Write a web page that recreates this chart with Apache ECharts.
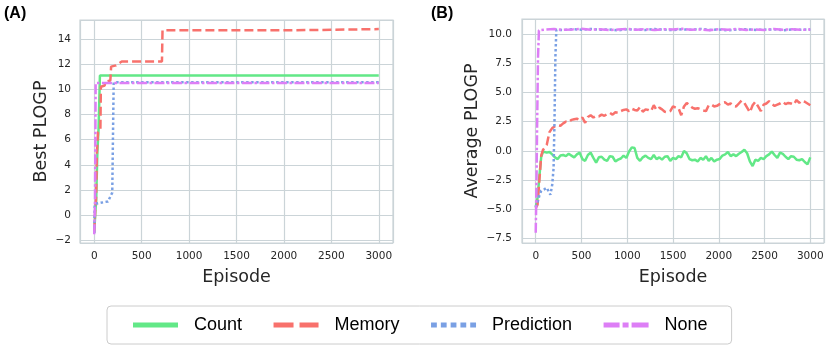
<!DOCTYPE html>
<html>
<head>
<meta charset="utf-8">
<script src="https://cdn.jsdelivr.net/npm/echarts@6/dist/echarts.min.js"></script>
<style>
  html, body { margin: 0; background: #fff; }
  #chart { width: 830px; height: 349px; }
</style>
</head>
<body>
<div id="chart"></div>
<script>
// Panel A: best PLOGP (step curves)
const aCountEp = [0, 12, 20, 33, 40, 46, 55, 60, 3000];
const aCount = [-1.4, 0.3, 1.0, 5.0, 5.1, 6.9, 7.0, 11.1, 11.1];
const aMemoryEp = [0, 10, 20, 28, 40, 65, 70, 110, 118, 170, 178, 230, 250, 290, 714, 720, 2070, 2080, 3000];
const aMemory = [-1.3, 0.3, 1.5, 5.0, 6.6, 6.8, 10.2, 10.3, 10.6, 10.7, 11.8, 11.9, 12.0, 12.2, 12.2, 14.68, 14.68, 14.78, 14.78];
const aPredEp = [0, 5, 15, 145, 190, 200, 205, 3000];
const aPred = [-1.4, 0.9, 1.0, 1.1, 1.8, 1.85, 10.55, 10.55];
const aNoneEp = [0, 8, 12, 15, 3000];
const aNone = [-1.5, 1.0, 6.0, 10.5, 10.5];

// Panel B: average PLOGP
const bEp = [0, 20, 40, 60, 80, 100, 120, 150, 180, 210, 240, 270,
  300, 330, 360, 390, 420, 450, 480, 510, 540, 570, 600, 630, 660, 690, 720, 750, 780, 810, 840, 870, 900, 930, 960, 990,
  1020, 1050, 1080, 1110, 1140, 1170, 1200, 1230, 1260, 1290, 1320, 1350, 1380, 1410, 1440, 1470, 1500, 1530, 1560, 1590,
  1620, 1650, 1680, 1710, 1740, 1770, 1800, 1830, 1860, 1890, 1920, 1950, 1980, 2010, 2040, 2070, 2100, 2130, 2160, 2190,
  2220, 2250, 2280, 2310, 2340, 2370, 2400, 2430, 2460, 2490, 2520, 2550, 2580, 2610, 2640, 2670, 2700, 2730, 2760, 2790,
  2820, 2850, 2880, 2910, 2940, 2970, 3000];
const bCount = [-4.8, -4.0, -2.2, -0.5, -0.05, -0.1, -0.15, -0.1, -0.3, -0.55, -0.7, -0.4,
  -0.35, -0.45, -0.25, -0.4, -0.55, -0.3, -0.15, -0.7, -0.85, -0.35, -0.15, -0.6, -1.0, -0.55, -0.5, -0.75, -0.85, -0.45, -0.5, -0.9, -0.75, -0.65, -0.4, -0.6,
  -0.05, 0.3, 0.25, -0.6, -0.85, -0.55, -0.4, -0.6, -0.7, -0.35, -0.7, -0.55, -0.75, -0.5, -0.45, -0.85, -0.6, -0.7, -0.45, -0.55,
  0.0, -0.2, -0.7, -0.8, -0.75, -0.9, -0.6, -0.75, -0.45, -0.85, -0.6, -0.9, -0.75, -0.7, -0.4, -0.3, -0.1, -0.45, -0.3, -0.45,
  -0.25, -0.1, 0.1, -0.2, -0.9, -1.3, -0.75, -0.85, -0.6, -0.7, -0.45, -0.3, -0.05, -0.35, -0.6, -0.15, -0.25, -0.5, -0.7, -0.45,
  -0.5, -0.75, -0.8, -0.7, -0.95, -1.15, -0.55];
const bMemory = [-4.9, -4.6, -2.5, -0.4, 0.1, 0.15, 0.5, 1.6, 1.95, 2.1, 2.2, 2.15,
  2.35, 2.5, 2.45, 2.65, 2.7, 2.75, 2.65, 2.85, 2.4, 2.9, 3.05, 2.85, 3.0, 2.95, 3.1, 3.0, 3.15, 3.25, 3.1, 3.3, 3.25, 3.4, 3.5, 3.55,
  3.4, 3.6, 3.5, 3.45, 3.75, 3.35, 3.55, 3.5, 3.4, 3.9, 3.5, 3.7, 3.55, 3.35, 3.3, 3.4, 3.8, 3.7, 3.65, 3.05,
  3.8, 4.1, 3.9, 3.7, 3.6, 3.65, 3.55, 3.45, 3.4, 3.9, 3.95, 3.8, 3.85, 4.0, 4.1, 4.15, 3.95, 4.05, 3.85, 3.8,
  4.05, 4.3, 4.1, 3.7, 3.3, 3.9, 4.2, 3.8, 3.4, 3.95, 4.05, 4.25, 4.0, 3.85, 3.95, 4.05, 4.2, 4.0, 4.1, 4.05,
  3.95, 4.35, 4.1, 4.3, 4.2, 4.05, 3.9];
const bPredEp = [0, 20, 40, 60, 90, 120, 140, 160, 180, 195, 205, 215, 225,
  300, 400, 500, 600, 700, 800, 900, 1000, 1100, 1200, 1300, 1400, 1500, 1600, 1700, 1800, 1900, 2000,
  2100, 2200, 2300, 2400, 2500, 2600, 2700, 2800, 2900, 3000];
const bPred = [-4.8, -4.4, -3.8, -3.4, -3.3, -3.15, -3.3, -3.75, -2.9, -1.5, 2.5, 8.0, 10.35,
  10.33, 10.4, 10.36, 10.42, 10.35, 10.38, 10.3, 10.4, 10.36, 10.33, 10.41, 10.37, 10.32, 10.39, 10.35, 10.42, 10.34, 10.38,
  10.3, 10.37, 10.4, 10.34, 10.36, 10.39, 10.31, 10.37, 10.35, 10.38];
const bNoneEp = [0, 8, 15, 25, 35, 100, 200, 300, 400, 500, 600, 700, 800, 900, 1000, 1100, 1200, 1300, 1400, 1500,
  1600, 1700, 1800, 1900, 2000, 2100, 2200, 2300, 2400, 2500, 2600, 2700, 2800, 2900, 3000];
const bNone = [-7.0, -3.0, 2.0, 8.0, 10.3, 10.36, 10.41, 10.34, 10.38, 10.43, 10.35, 10.4, 10.32, 10.37, 10.42,
  10.36, 10.39, 10.33, 10.4, 10.37, 10.43, 10.35, 10.38, 10.31, 10.4, 10.36, 10.42, 10.34, 10.38, 10.33, 10.41,
  10.36, 10.39, 10.35, 10.37];

const names = ['Count', 'Memory', 'Prediction', 'None'];
const colors = ['#62e887', '#f8716c', '#7aa0e4', '#dd7ef6'];
const plotDash = ['solid', [9, 4], [2.5, 2.5], [10, 2.5, 2.5, 2.5]];
// legend samples drawn as 45x5 paths (solid, dashed, dotted, dash-dot)
const legendIcons = [
  'path://M0,0H45V5H0Z',
  'path://M0,0H20V5H0Z M26,0H45V5H26Z',
  'path://M0,0H5.8V5H0Z M9.8,0H15.6V5H9.8Z M19.6,0H25.4V5H19.6Z M29.4,0H35.2V5H29.4Z M39.2,0H45V5H39.2Z',
  'path://M0,0H16V5H0Z M19,0H25V5H19Z M28,0H45V5H28Z'
];

const gridColor = '#cbd4d8';
const tickFont = { color: '#262626', fontSize: 10.5, fontFamily: 'DejaVu Sans' };
const nameFont = { color: '#262626', fontSize: 17.5, fontFamily: 'DejaVu Sans' };

const pairs = (xs, ys) => xs.map((x, i) => [x, ys[i]]);
const onStep = (v, step) => Math.abs(v / step - Math.round(v / step)) < 1e-6;
const minus = s => s.replace('-', '\u2212');

const xAxisFor = (gi) => ({
  type: 'value', gridIndex: gi, min: -150, max: 3150, minInterval: 500, maxInterval: 500,
  name: 'Episode', nameLocation: 'middle', nameGap: 25.5, nameTextStyle: nameFont,
  axisLine: { show: false }, axisTick: { show: false },
  axisLabel: Object.assign({ margin: 8, formatter: v => onStep(v, 500) ? minus(String(v)) : '' }, tickFont),
  splitLine: { lineStyle: { color: gridColor, width: 1.2 } }
});

const lineSeries = (i, data, axis) => ({
  name: names[i], type: 'line', data: data, xAxisIndex: axis, yAxisIndex: axis,
  showSymbol: false, symbol: 'none', silent: true,
  lineStyle: { color: colors[i], width: 2.5, type: plotDash[i] },
  itemStyle: { color: colors[i] }
});

const chart = echarts.init(document.getElementById('chart'));
chart.setOption({
  animation: false,
  backgroundColor: '#fff',
  graphic: [
    { type: 'text', left: 4, top: 6, style: { text: '(A)', font: 'bold 16px "Liberation Sans", Arial', fill: '#000' } },
    { type: 'text', left: 431, top: 6, style: { text: '(B)', font: 'bold 16px "Liberation Sans", Arial', fill: '#000' } }
  ],
  grid: [
    { left: 80, top: 20, width: 313, height: 223, show: true, borderColor: gridColor, borderWidth: 1.2, backgroundColor: 'transparent' },
    { left: 522, top: 19, width: 302, height: 224, show: true, borderColor: gridColor, borderWidth: 1.2, backgroundColor: 'transparent' }
  ],
  xAxis: [xAxisFor(0), xAxisFor(1)],
  yAxis: [
    {
      type: 'value', gridIndex: 0, min: -2.2, max: 15.5, minInterval: 2, maxInterval: 2,
      name: 'Best PLOGP', nameLocation: 'middle', nameGap: 30, nameTextStyle: nameFont,
      axisLine: { show: false }, axisTick: { show: false },
      axisLabel: Object.assign({ margin: 9, formatter: v => onStep(v, 2) ? minus(String(v)) : '' }, tickFont),
      splitLine: { lineStyle: { color: gridColor, width: 1.2 } }
    },
    {
      type: 'value', gridIndex: 1, min: -7.87, max: 11.27, minInterval: 2.5, maxInterval: 2.5,
      name: 'Average PLOGP', nameLocation: 'middle', nameGap: 41, nameTextStyle: nameFont,
      axisLine: { show: false }, axisTick: { show: false },
      axisLabel: Object.assign({ margin: 10, formatter: v => onStep(v, 2.5) ? minus(v.toFixed(1)) : '' }, tickFont),
      splitLine: { lineStyle: { color: gridColor, width: 1.2 } }
    }
  ],
  legend: {
    left: 107, top: 306,
    padding: [10, 24, 10, 26],
    itemGap: 31.5, itemWidth: 45, itemHeight: 5,
    borderColor: '#cccccc', borderWidth: 1, borderRadius: 4,
    selectedMode: false,
    textStyle: { fontFamily: '"Liberation Sans", Arial', fontSize: 18, color: '#000', padding: [0, 0, 0, 11] },
    data: names.map((n, i) => ({ name: n, icon: legendIcons[i], itemStyle: { color: colors[i], borderWidth: 0 } }))
  },
  series: [
    lineSeries(0, pairs(aCountEp, aCount), 0),
    lineSeries(1, pairs(aMemoryEp, aMemory), 0),
    lineSeries(2, pairs(aPredEp, aPred), 0),
    lineSeries(3, pairs(aNoneEp, aNone), 0),
    lineSeries(0, pairs(bEp, bCount), 1),
    lineSeries(1, pairs(bEp, bMemory), 1),
    lineSeries(2, pairs(bPredEp, bPred), 1),
    lineSeries(3, pairs(bNoneEp, bNone), 1)
  ]
});
</script>
</body>
</html>
